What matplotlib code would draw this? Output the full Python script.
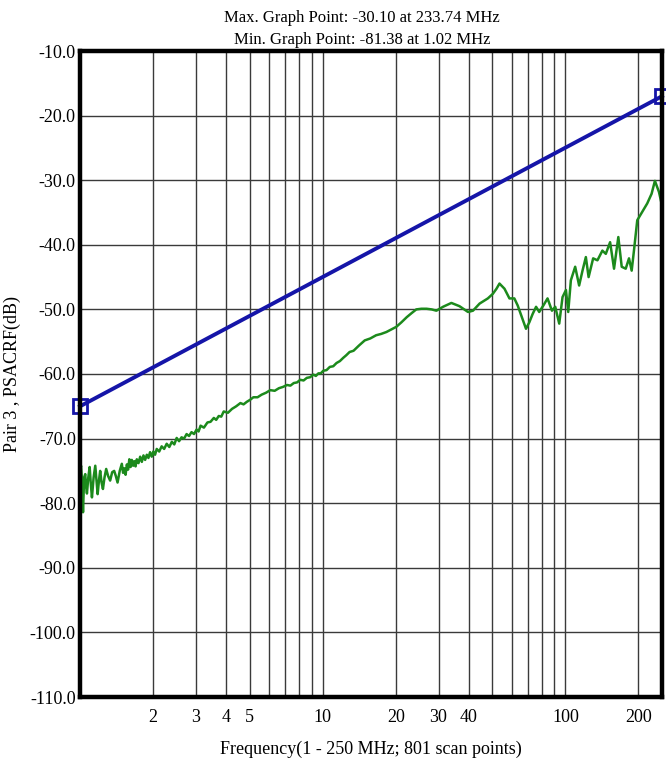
import matplotlib
matplotlib.use("Agg")
import matplotlib.pyplot as plt
from matplotlib.ticker import FixedLocator, NullFormatter

plt.rcParams['font.family'] = ['Liberation Serif', 'DejaVu Serif']

freq_low = [1.000, 1.010, 1.019, 1.029, 1.040, 1.051, 1.060, 1.068, 1.082, 1.096,
            1.108, 1.120, 1.138, 1.156, 1.170, 1.182, 1.197, 1.211, 1.227, 1.243,
            1.262, 1.282, 1.306, 1.331, 1.357, 1.383, 1.405, 1.428, 1.458, 1.487]
db_low = [-75.0, -74.2, -76.5, -81.4, -76.0, -75.5, -77.5, -78.5, -76.0, -74.4,
          -77.0, -79.1, -76.0, -74.2, -76.5, -78.6, -76.5, -75.0, -76.8, -77.8,
          -76.0, -74.7, -75.8, -76.5, -75.2, -75.0, -75.8, -76.8, -75.0, -73.9]

freq_mid = [1.505, 1.523, 1.541, 1.560, 1.578, 1.597, 1.616, 1.635, 1.655, 1.674,
            1.694, 1.714, 1.742, 1.770, 1.798, 1.826, 1.855, 1.885, 1.914, 1.944,
            1.975, 2.005, 2.038, 2.071, 2.120, 2.170, 2.222, 2.276, 2.333, 2.390,
            2.446, 2.502, 2.560, 2.620, 2.684, 2.749, 2.814, 2.880, 2.950, 3.022,
            3.080, 3.139, 3.240, 3.350, 3.450, 3.560, 3.640, 3.730, 3.820, 3.910,
            4.070, 4.230, 4.400, 4.580, 4.720, 4.870, 5.020, 5.180, 5.390, 5.600,
            5.840, 6.080, 6.340, 6.600, 6.860, 7.130, 7.360, 7.600, 7.840, 8.080,
            8.340, 8.600, 8.870, 9.150, 9.370, 9.600, 9.820, 10.05, 10.37, 10.70,
            11.05, 11.40, 11.77, 12.15, 12.50, 12.90]
db_mid = [-75.3, -74.6, -75.6, -74.0, -74.8, -73.2, -74.4, -73.3, -74.2, -73.5,
          -74.3, -73.2, -73.8, -72.8, -73.6, -72.6, -73.3, -72.5, -73.0, -72.1,
          -72.8, -72.0, -72.5, -71.6, -72.0, -71.2, -71.6, -70.8, -71.3, -70.5,
          -70.9, -69.9, -70.4, -69.8, -70.0, -69.3, -69.6, -69.0, -69.3, -68.6,
          -68.9, -68.0, -68.3, -67.5, -67.4, -66.8, -67.1, -66.5, -66.6, -65.8,
          -66.0, -65.4, -65.0, -64.5, -64.7, -64.3, -64.0, -63.6, -63.6, -63.2,
          -62.9, -62.5, -62.6, -62.2, -62.0, -61.7, -61.8, -61.4, -61.3, -60.9,
          -61.0, -60.6, -60.5, -60.1, -60.3, -59.9, -59.9, -59.5, -59.4, -58.9,
          -58.8, -58.3, -58.0, -57.5, -57.1, -56.6]

freq_high = [13.40, 14.10, 14.90, 15.70, 16.60, 17.40, 18.30, 19.20, 20.10, 21.10,
             22.20, 23.20, 24.30, 25.50, 26.80, 28.10, 29.40, 31.30, 33.90, 36.60,
             39.70, 41.60, 44.30, 47.90, 50.20, 52.00, 53.50, 56.10, 58.80, 61.60,
             63.60, 65.70, 68.80, 71.00, 73.30, 75.70, 78.00, 81.10, 84.40, 88.00,
             90.80, 94.30, 97.30, 100.5, 102.7, 105.3, 109.7, 113.9, 117.6, 121.4,
             124.6, 130.1, 135.5, 142.0, 146.7, 152.8, 158.6, 165.2, 170.6, 177.2,
             182.8, 187.5, 191.6, 197.7, 207.3, 217.3, 226.5, 233.74, 242.8, 250.0]
db_high = [-56.4, -55.6, -54.8, -54.5, -54.0, -53.8, -53.5, -53.1, -52.7, -52.0,
           -51.2, -50.6, -50.0, -49.9, -49.9, -50.0, -50.2, -49.6, -49.0, -49.5,
           -50.4, -50.2, -49.1, -48.3, -47.6, -46.8, -46.0, -46.8, -48.3, -48.3,
           -49.4, -50.9, -53.0, -52.0, -50.7, -49.6, -50.4, -49.4, -48.3, -50.2,
           -49.6, -52.2, -48.1, -47.0, -50.4, -45.5, -43.4, -46.3, -44.0, -41.9,
           -45.0, -42.1, -42.4, -40.9, -41.4, -39.6, -43.7, -38.8, -43.4, -43.7,
           -42.1, -44.0, -40.9, -36.2, -34.9, -33.6, -32.1, -30.1, -31.8, -33.9]

# limit line
limit_freq = [1.0, 250.0]
limit_db = [-65.0, -17.0]

x_labeled = [2, 3, 4, 5, 10, 20, 30, 40, 100, 200]
x_grid = [2, 3, 4, 5, 6, 7, 8, 9, 10, 20, 30, 40, 50, 60, 70, 80, 90, 100, 200]
y_ticks = [-10, -20, -30, -40, -50, -60, -70, -80, -90, -100, -110]

freq_mhz = freq_low + freq_mid + freq_high
psacrf_db = db_low + db_mid + db_high

fig = plt.figure(figsize=(6.66, 7.6), dpi=100)
ax = fig.add_axes([80 / 666, 1 - 697 / 760, (662 - 80) / 666, (697 - 51) / 760])

ax.set_xscale('log')
ax.set_xlim(1, 250)
ax.set_ylim(-110, -10)

ax.xaxis.set_major_locator(FixedLocator(x_labeled))
ax.xaxis.set_minor_locator(FixedLocator([v for v in x_grid if v not in x_labeled]))
ax.set_xticklabels([str(v) for v in x_labeled])
ax.xaxis.set_minor_formatter(NullFormatter())
ax.set_yticks(y_ticks)
ax.set_yticklabels(['%.1f' % v for v in y_ticks])

ax.grid(True, which='both', axis='x', color='#3a3a3a', lw=1.0)
ax.grid(True, which='major', axis='y', color='#3a3a3a', lw=1.0)
ax.tick_params(which='both', length=0, labelsize=13)
ax.tick_params(axis='x', pad=9)
ax.tick_params(axis='y', pad=3)
for s in ax.spines.values():
    s.set_linewidth(3.2)
    s.set_color('black')
    s.set_zorder(5)

ax.plot(freq_mhz, psacrf_db, color='#1c8a1c', lw=1.8, zorder=3)
ax.plot(limit_freq, limit_db, color='#1515a8', lw=2.8, zorder=4,
        marker='s', markersize=10, markerfacecolor='none',
        markeredgecolor='#1515a8', markeredgewidth=2.0, clip_on=False)

ax.set_xlabel('Frequency(1 - 250 MHz; 801 scan points)', fontsize=13, labelpad=10)
ax.set_ylabel('Pair 3 , PSACRF(dB)', fontsize=13, labelpad=6)

fig.text(362 / 666, 1 - 18 / 760, 'Max. Graph Point: -30.10 at 233.74 MHz',
         ha='center', va='center', fontsize=12)
fig.text(362 / 666, 1 - 40 / 760, 'Min. Graph Point: -81.38 at 1.02 MHz',
         ha='center', va='center', fontsize=12)

fig.savefig('out.png', dpi=100)
